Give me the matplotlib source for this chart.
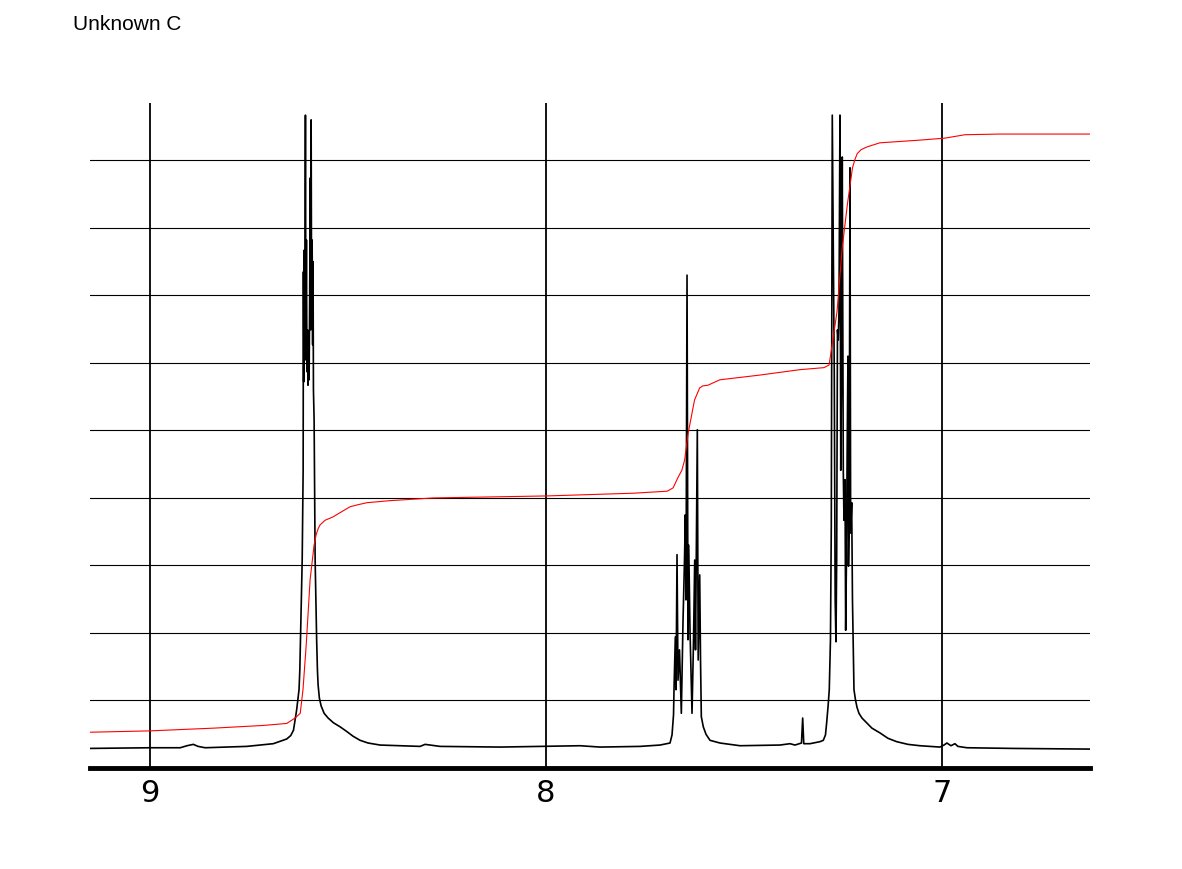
import matplotlib
matplotlib.use("Agg")
import matplotlib.pyplot as plt

# 1H NMR trace (ppm, intensity in grid units)
spec_ppm = [
    9.152, 9.000, 8.924, 8.907, 8.891, 8.879, 8.861, 8.756, 8.689, 8.655,
    8.645, 8.638, 8.630, 8.624, 8.622, 8.618, 8.616, 8.6136,
    # multiplet ~8.60
    8.6129, 8.6121, 8.6109, 8.6096, 8.6078, 8.6066, 8.6053, 8.6040, 8.6025, 8.6013,
    8.5997, 8.5985, 8.5970, 8.5955, 8.5944, 8.5934, 8.5922, 8.5909, 8.5896, 8.5886,
    8.5876, 8.5859, 8.5833, 8.5795, 8.5775, 8.5758, 8.5727, 8.5682, 8.5606, 8.5505,
    8.5371, 8.5202, 8.5033, 8.4874, 8.4697, 8.4495, 8.4192, 8.3182, 8.3056, 8.2677,
    8.1162, 7.9141, 7.8636, 7.7626, 7.7121, 7.6869, 7.6818, 7.6780,
    # multiplet ~7.64
    7.6768, 7.6735, 7.6717, 7.6692, 7.6667, 7.6629, 7.6583, 7.6540, 7.6503, 7.6482,
    7.6465, 7.6439, 7.6414, 7.6396, 7.6364, 7.6313, 7.6275, 7.6245, 7.6225, 7.6179,
    7.6157, 7.6119, 7.6098, 7.6078, 7.6028, 7.5960, 7.5859, 7.5606, 7.5101, 7.4091,
    7.3838, 7.3712, 7.3548, 7.3518, 7.3490, 7.3333, 7.3081, 7.2997, 7.2942, 7.2912,
    7.2874, 7.2846, 7.2816,
    # multiplet ~7.25
    7.2795, 7.2770, 7.2745, 7.2720, 7.2697, 7.2677, 7.2659, 7.2639, 7.2619, 7.2601,
    7.2576, 7.2556, 7.2538, 7.2518, 7.2492, 7.2475, 7.2449, 7.2432, 7.2412, 7.2394,
    7.2374, 7.2361, 7.2343, 7.2323, 7.2306, 7.2280, 7.2260, 7.2240, 7.2222, 7.2184,
    7.2146, 7.2096, 7.2020, 7.1902, 7.1768, 7.1566, 7.1364, 7.1144, 7.0859, 7.0556,
    7.0051, 6.9949, 6.9874, 6.9773, 6.9672, 6.9596, 6.9369, 6.8207, 6.6263,
]
spec_int = [
    0.29, 0.30, 0.30, 0.33, 0.35, 0.32, 0.30, 0.32, 0.36, 0.43,
    0.48, 0.56, 0.86, 1.16, 1.45, 2.49, 3.08, 4.41,
    7.35, 5.72, 7.67, 6.04, 9.67, 6.34, 7.82, 5.87, 6.49, 5.67,
    6.19, 5.75, 7.08, 8.74, 6.49, 9.60, 6.64, 7.82, 6.27, 7.50,
    5.60, 5.16, 3.08, 1.90, 1.45, 1.23, 1.04, 0.92, 0.81, 0.74,
    0.67, 0.61, 0.54, 0.47, 0.41, 0.37, 0.34, 0.32, 0.35, 0.32,
    0.31, 0.33, 0.31, 0.32, 0.34, 0.37, 0.49, 0.79,
    1.16, 1.94, 1.16, 3.16, 1.30, 1.75, 0.81, 2.19, 3.08, 3.75,
    2.49, 7.30, 1.90, 3.30, 2.04, 0.81, 1.90, 3.08, 1.75, 5.01,
    1.60, 2.86, 1.60, 0.76, 0.61, 0.50, 0.41, 0.37, 0.33, 0.34,
    0.36, 0.34, 0.37, 0.74, 0.36, 0.36, 0.39, 0.41, 0.49, 0.67,
    0.93, 1.16, 1.90,
    3.57, 9.67, 7.79, 5.85, 2.49, 1.87, 3.08, 6.49, 6.34, 6.76,
    9.67, 4.41, 5.75, 9.05, 4.41, 3.67, 4.27, 2.04, 3.08, 4.71,
    6.10, 2.99, 3.67, 8.89, 3.48, 3.93, 2.49, 1.81, 1.16, 1.01,
    0.90, 0.81, 0.74, 0.67, 0.59, 0.52, 0.44, 0.39, 0.35, 0.33,
    0.31, 0.34, 0.37, 0.33, 0.36, 0.32, 0.30, 0.29, 0.28,
]

# integral curve
integ_ppm = [
    9.152, 9.000, 8.841, 8.715, 8.655, 8.634, 8.621, 8.614, 8.606, 8.596,
    8.586, 8.581, 8.576, 8.571, 8.558, 8.538, 8.518, 8.495, 8.475, 8.452,
    8.394, 8.285, 7.997, 7.780, 7.694, 7.679, 7.667, 7.657, 7.650, 7.641,
    7.625, 7.612, 7.604, 7.591, 7.561, 7.460, 7.359, 7.298, 7.285, 7.265,
    7.252, 7.239, 7.226, 7.220, 7.214, 7.204, 7.189, 7.157, 7.056, 6.992,
    6.942, 6.854, 6.626,
]
integ_val = [
    0.53, 0.55, 0.59, 0.63, 0.66, 0.74, 0.81, 1.16, 1.81, 2.79,
    3.30, 3.45, 3.54, 3.60, 3.67, 3.72, 3.79, 3.87, 3.90, 3.93,
    3.96, 4.00, 4.03, 4.07, 4.10, 4.15, 4.30, 4.41, 4.56, 4.96,
    5.45, 5.63, 5.66, 5.67, 5.75, 5.82, 5.90, 5.93, 5.97, 6.76,
    7.70, 8.34, 8.89, 9.01, 9.10, 9.16, 9.20, 9.26, 9.30, 9.33,
    9.38, 9.39, 9.39,
]

ppm_ticks = [9, 8, 7]
grid_levels = [1, 2, 3, 4, 5, 6, 7, 8, 9]
title = "Unknown C"

fig = plt.figure(figsize=(11.82, 8.69), dpi=100)
ax = fig.add_axes([90 / 1182, 1 - 768 / 869, 1000 / 1182, 665 / 869])

for lv in grid_levels:
    ax.axhline(lv, color="black", linewidth=0.8, zorder=1)
for t in ppm_ticks:
    ax.axvline(t, color="black", linewidth=1.3, zorder=1)

ax.plot(spec_ppm, spec_int, color="black", linewidth=1.2, zorder=3)
ax.plot(integ_ppm, integ_val, color="#ff0000", linewidth=0.8, zorder=4)

ax.set_xlim(9.152, 6.626)
ax.set_ylim(0, 9.85)
ax.set_xticks(ppm_ticks)
ax.set_xticklabels([str(t) for t in ppm_ticks], fontsize=22, family="DejaVu Sans")
ax.tick_params(axis="x", length=0, pad=8)
ax.set_yticks([])
for side in ("top", "left", "right"):
    ax.spines[side].set_visible(False)
ax.spines["bottom"].set_linewidth(3.5)

fig.text(73 / 1182, 1 - 24 / 869, title, fontsize=15, family="Liberation Sans",
         va="center", ha="left")

fig.savefig("out.png", dpi=100)
